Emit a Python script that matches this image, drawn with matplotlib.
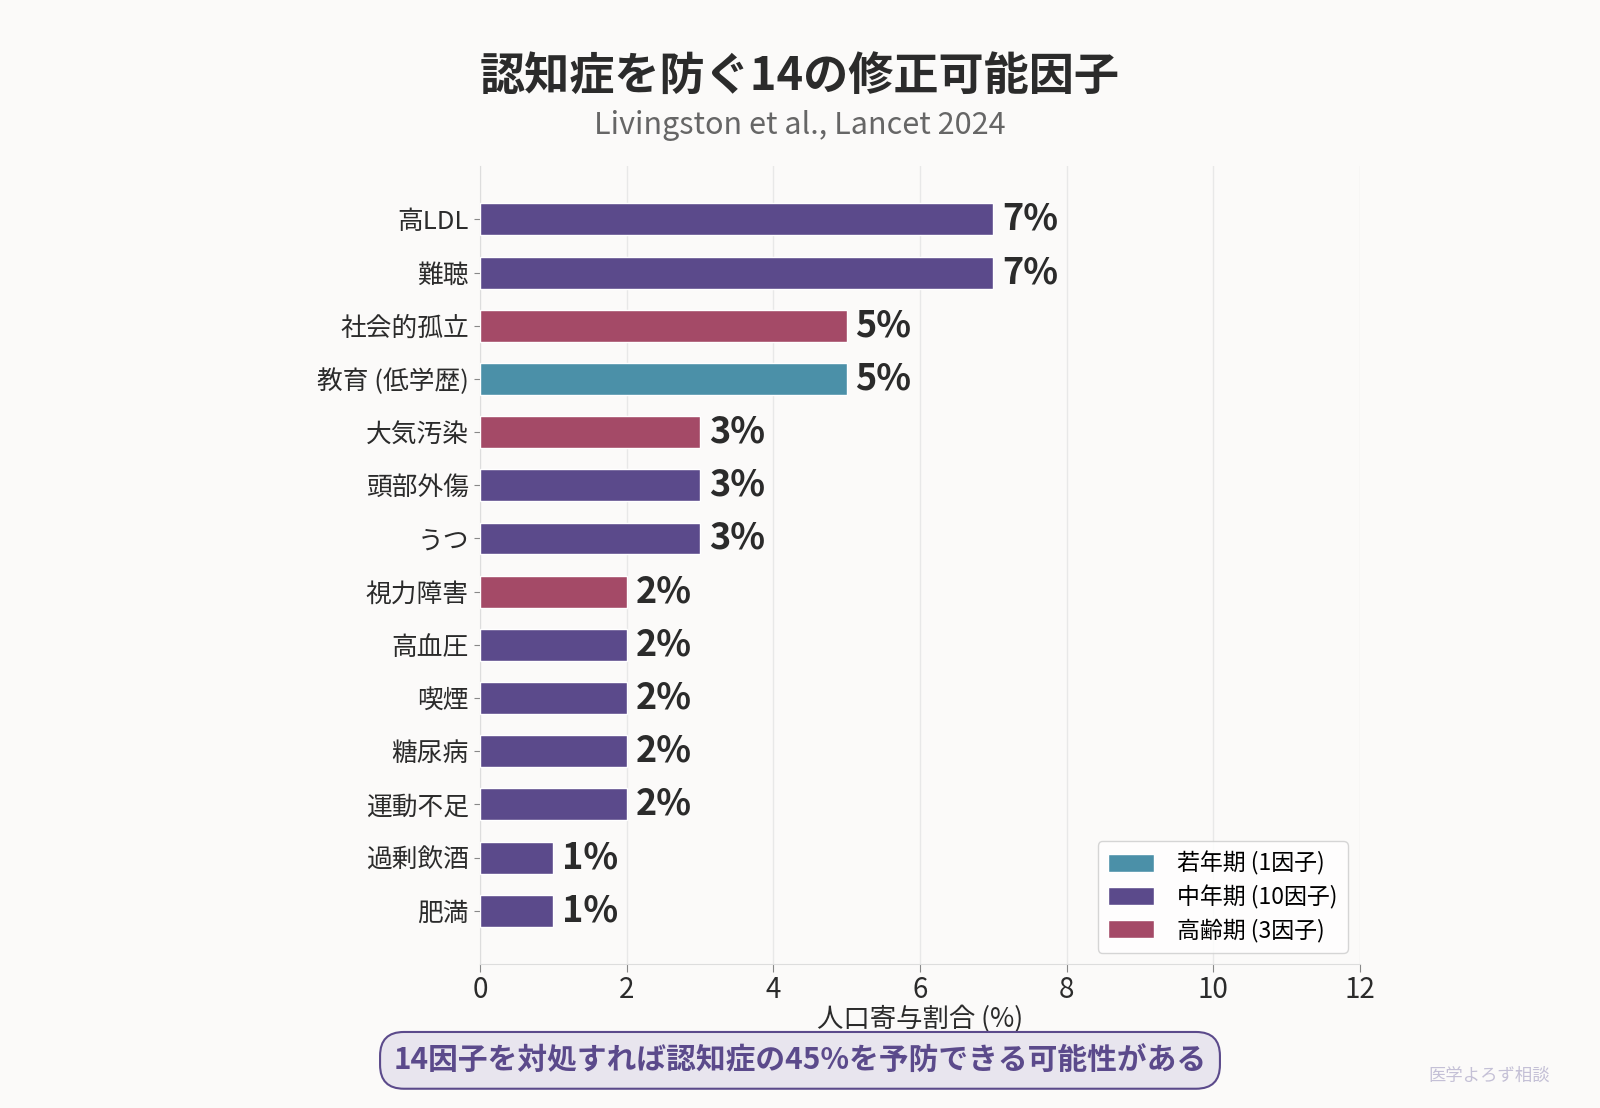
'''Chart: 14 modifiable risk factors for dementia (Livingston 2024).'''

import matplotlib
matplotlib.use("Agg")
import matplotlib.pyplot as plt
from matplotlib.patches import Patch

plt.rcParams['font.family'] = ['Noto Sans CJK JP', 'DejaVu Sans']

factors = ['高LDL', '難聴', '社会的孤立', '教育 (低学歴)', '大気汚染', '頭部外傷', 'うつ',
           '視力障害', '高血圧', '喫煙', '糖尿病', '運動不足', '過剰飲酒', '肥満']
paf = [7, 7, 5, 5, 3, 3, 3, 2, 2, 2, 2, 2, 1, 1]
stage = ['mid', 'mid', 'late', 'early', 'late', 'mid', 'mid',
         'late', 'mid', 'mid', 'mid', 'mid', 'mid', 'mid']

stage_colors = {'early': '#4B90A8', 'mid': '#5B4A8B', 'late': '#A44A67'}
legend_labels = [('early', '若年期 (1因子)'), ('mid', '中年期 (10因子)'), ('late', '高齢期 (3因子)')]
xticks = [0, 2, 4, 6, 8, 10, 12]


def main():
    bg = '#FBFAF9'
    fig = plt.figure(figsize=(16, 11.08), dpi=100, facecolor=bg)
    ax = fig.add_axes([0.30, 0.13, 0.55, 0.72], facecolor=bg)

    ypos = list(range(len(factors)))
    colors = [stage_colors[s] for s in stage]
    ax.barh(ypos, paf, height=0.6, color=colors, edgecolor='white', linewidth=1, zorder=3)

    for y, v in zip(ypos, paf):
        ax.text(v + 0.12, y, f'{v}%', va='center', ha='left', fontsize=26,
                fontweight='bold', color='#2B2B2B', zorder=4)

    ax.set_ylim(14, -1)
    ax.set_xlim(0, 12)
    ax.set_yticks(ypos)
    ax.set_yticklabels(factors, fontsize=18.5, color='#2B2B2B')
    ax.set_xticks(xticks)
    ax.set_xticklabels([str(t) for t in xticks], fontsize=20, color='#2B2B2B')
    ax.tick_params(axis='y', length=4, color='#888888', pad=4)
    ax.tick_params(axis='x', length=6, color='#888888', pad=2)
    ax.grid(axis='x', color='#E8E8E8', linewidth=1, zorder=0)
    for s in ['top', 'right']:
        ax.spines[s].set_visible(False)
    for s in ['left', 'bottom']:
        ax.spines[s].set_color('#DDDDDD')

    ax.set_xlabel('人口寄与割合 (%)', fontsize=19, color='#2B2B2B', labelpad=0)

    handles = [Patch(facecolor=stage_colors[k], edgecolor='white', label=lab)
               for k, lab in legend_labels]
    leg = ax.legend(handles=handles, loc='lower right', bbox_to_anchor=(0.999, 0.0),
                    fontsize=16.5, frameon=True, handlelength=2.0, handleheight=0.8,
                    handletextpad=1.0, borderpad=0.45, labelspacing=0.4)
    leg.get_frame().set_edgecolor('#CCCCCC')
    leg.get_frame().set_facecolor('white')

    fig.text(0.5, 0.931, '認知症を防ぐ14の修正可能因子', ha='center', va='center',
             fontsize=32.5, fontweight='bold', color='#2B2B2B')
    fig.text(0.5, 0.887, 'Livingston et al., Lancet 2024', ha='center', va='center',
             fontsize=22, color='#666666')

    fig.text(0.5, 0.043, '14因子を対処すれば認知症の45%を予防できる可能性がある',
             ha='center', va='center', fontsize=21.4, fontweight='bold', color='#5B4A8B',
             bbox=dict(boxstyle='round,pad=0.45,rounding_size=0.8', facecolor='#E8E5EE',
                       edgecolor='#5B4A8B', linewidth=1.5))

    fig.text(0.969, 0.029, '医学よろず相談', ha='right', va='center', fontsize=12.5,
             color='#C4C0D6')

    plt.savefig('out.png', dpi=100, facecolor=bg)


if __name__ == "__main__":
    main()
